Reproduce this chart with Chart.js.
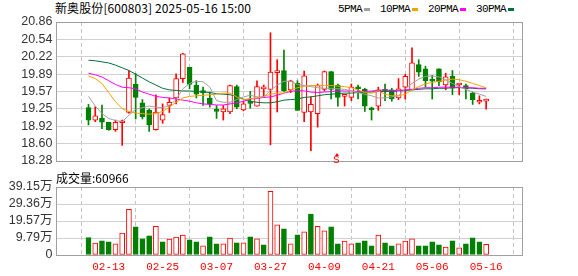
<!DOCTYPE html>
<html lang="zh-CN">
<head>
<meta charset="UTF-8" />
<title>新奥股份 日K</title>
<script src="https://cdn.jsdelivr.net/npm/chart.js"></script>
<style>
  body { margin: 0; width: 578px; height: 276px; position: relative; overflow: hidden; background: #fff;
         font-family: "Noto Sans CJK SC", "Liberation Sans", sans-serif; color: #000; }
  .abs { position: absolute; }
  #title { left: 55px; top: 0px; font-size: 12px; line-height: 16px; white-space: nowrap; letter-spacing: 0.1px; }
  #legend { left: 338px; top: 1px; display: flex; align-items: center; height: 16px;
            font-family: "Liberation Mono", monospace; font-size: 11px; letter-spacing: -0.6px; }
  #legend span.sw { display: inline-block; width: 6px; height: 3px; margin: 0 10px 0 2px; }
  #volLabel { left: 56px; top: 170px; font-size: 12px; line-height: 16px; white-space: nowrap; }
  #sMark { left: 333px; top: 152px; color: #ff0000; font-family: "Liberation Mono", monospace;
           font-size: 11px; line-height: 16px; }
  #sMark:before { content: ""; position: absolute; left: 2px; top: 1px; border-left: 2px solid transparent;
                  border-right: 2px solid transparent; border-bottom: 3px solid #ff0000; }
  #mainBox { left: 0; top: 0; width: 578px; height: 172px; }
  #volBox { left: 0; top: 172px; width: 578px; height: 104px; }
</style>
</head>
<body>
  <div id="title" class="abs">新奥股份[600803] 2025-05-16 15:00</div>
  <div id="legend" class="abs"></div>

  <div id="mainBox" class="abs"><canvas id="kChart" width="578" height="172"></canvas></div>
  <div id="sMark" class="abs">S</div>

  <div id="volLabel" class="abs">成交量:60966</div>
  <div id="volBox" class="abs"><canvas id="volChart" width="578" height="104"></canvas></div>

<script>
  // trading days shown on the chart (03-10 .. 03-17 suspended)
  const dates = ['02-10','02-11','02-12','02-13','02-14','02-17','02-18','02-19','02-20','02-21',
                 '02-24','02-25','02-26','02-27','02-28','03-03','03-04','03-05','03-06','03-07',
                 '03-18','03-19','03-20','03-21','03-24','03-25','03-26','03-27','03-28','03-31',
                 '04-01','04-02','04-03','04-07','04-08','04-09','04-10','04-11','04-14','04-15',
                 '04-16','04-17','04-18','04-21','04-22','04-23','04-24','04-25','04-28','04-29',
                 '04-30','05-06','05-07','05-08','05-09','05-12','05-13','05-14','05-15','05-16'];
  const dateTickIdx = [3, 11, 19, 27, 35, 43, 51, 59];

  const opens  = [19.27,19.04,19.07,19.00,18.86,18.99,19.18,19.71,19.36,19.22,
                  18.86,19.04,19.31,19.45,19.81,20.02,19.69,19.56,19.45,19.21,
                  19.19,19.19,19.66,19.23,19.36,19.30,19.62,19.61,19.92,19.96,
                  19.60,19.72,19.18,19.19,19.16,19.61,19.94,19.69,19.48,19.46,
                  19.63,19.61,19.24,19.30,19.59,19.60,19.45,19.65,19.60,20.07,
                  19.99,19.78,19.99,19.69,19.85,19.69,19.68,19.54,19.37,19.39];
  const highs  = [19.33,19.29,19.32,19.00,19.04,19.04,19.96,19.90,19.42,19.25,
                  19.51,19.34,19.45,19.90,20.28,20.02,19.77,19.65,19.56,19.31,
                  19.31,19.69,19.69,19.39,19.57,19.77,19.69,20.66,20.16,20.34,
                  19.78,19.77,19.95,19.47,19.71,19.95,19.94,19.71,19.52,19.71,
                  19.69,19.63,19.28,19.65,19.71,19.63,19.81,19.89,20.38,20.16,
                  20.04,19.87,19.99,19.91,19.96,19.71,19.71,19.56,19.49,19.43];
  const lows   = [18.95,19.01,18.88,18.85,18.83,18.57,19.17,19.06,19.06,18.83,
                  18.85,18.98,19.18,19.34,19.74,19.62,19.45,19.31,19.28,19.07,
                  19.04,19.16,19.25,19.21,19.26,19.30,19.46,18.58,19.19,19.57,
                  19.55,19.22,19.01,18.47,18.91,19.58,19.43,19.30,19.30,19.40,
                  19.43,19.20,19.04,19.22,19.40,19.39,19.42,19.43,19.60,19.85,
                  19.65,19.43,19.68,19.60,19.51,19.51,19.43,19.33,19.34,19.24];
  const closes = [19.04,19.12,19.00,18.86,19.00,19.01,19.82,19.46,19.10,18.95,
                  19.19,19.14,19.37,19.81,20.27,19.70,19.52,19.55,19.34,19.20,
                  19.25,19.68,19.28,19.34,19.35,19.66,19.64,19.93,19.95,19.58,
                  19.77,19.22,19.86,19.33,19.68,19.94,19.61,19.46,19.50,19.65,
                  19.62,19.30,19.23,19.60,19.58,19.43,19.62,19.85,20.10,19.93,
                  19.77,19.76,19.75,19.84,19.63,19.70,19.62,19.42,19.38,19.42];

  const ma5  = [19.48,19.30,19.16,19.07,19.03,19.01,19.13,19.24,19.27,19.30,
                19.28,19.27,19.31,19.42,19.62,19.72,19.76,19.75,19.65,19.40,
                19.37,19.37,19.42,19.47,19.50,19.47,19.47,19.59,19.69,19.76,
                19.76,19.70,19.68,19.66,19.64,19.63,19.63,19.62,19.61,19.58,
                19.55,19.52,19.49,19.45,19.45,19.47,19.49,19.62,19.72,19.80,
                19.85,19.86,19.84,19.79,19.72,19.66,19.61,19.56,19.52,19.48];
  const ma10 = [19.86,19.81,19.72,19.55,19.38,19.25,19.20,19.17,19.16,19.15,
                19.16,19.20,19.28,19.37,19.45,19.48,19.49,19.50,19.51,19.52,
                19.54,19.54,19.47,19.42,19.44,19.45,19.48,19.52,19.54,19.54,
                19.60,19.64,19.67,19.68,19.68,19.68,19.68,19.67,19.66,19.64,
                19.60,19.55,19.54,19.58,19.52,19.49,19.49,19.52,19.60,19.66,
                19.71,19.74,19.76,19.78,19.80,19.79,19.76,19.72,19.68,19.64];
  const ma20 = [19.91,19.88,19.84,19.77,19.70,19.65,19.64,19.62,19.56,19.52,
                19.48,19.46,19.45,19.43,19.41,19.39,19.36,19.34,19.33,19.32,
                19.32,19.34,19.36,19.39,19.43,19.44,19.46,19.47,19.50,19.54,
                19.57,19.59,19.58,19.56,19.55,19.56,19.57,19.58,19.58,19.58,
                19.57,19.57,19.58,19.59,19.60,19.59,19.59,19.60,19.61,19.63,
                19.64,19.64,19.65,19.65,19.65,19.65,19.64,19.64,19.63,19.63];
  const ma30 = [20.15,20.14,20.12,20.10,20.06,20.01,19.96,19.89,19.82,19.75,
                19.69,19.63,19.60,19.59,19.58,19.58,19.57,19.56,19.55,19.53,
                19.52,19.51,19.48,19.43,19.39,19.37,19.36,19.36,19.38,19.41,
                19.42,19.43,19.46,19.47,19.49,19.51,19.52,19.53,19.54,19.54,
                19.55,19.55,19.56,19.57,19.57,19.57,19.58,19.59,19.60,19.61,
                19.62,19.62,19.63,19.63,19.64,19.64,19.64,19.63,19.62,19.62];

  // volume in lots (手)
  const volumes = [100800,68500,81800,76100,64700,125500,262500,161700,93200,110300,
                   165500,76100,91300,102700,114100,87500,76100,53300,104600,64700,
                   64700,97000,70400,70400,104600,93200,59000,367100,173100,150300,
                   64700,116000,133100,235800,165500,138800,161700,64700,79900,64700,
                   70400,81800,53300,114100,70400,53300,64700,79900,93200,53300,
                   53300,76100,59000,45600,81800,41800,64700,98900,76100,60966];
  const volUp = [0,1,0,0,1,1,1,0,0,0, 1,0,1,1,1,0,0,1,0,0,
                 1,1,0,1,0,1,0,1,1,0, 1,0,1,0,1,1,0,0,1,1,
                 0,0,0,1,0,0,1,1,1,0, 0,0,0,1,0,1,0,0,0,1];

  const priceTicks = ['18.28','18.60','18.92','19.25','19.57','19.89','20.22','20.54','20.86'];
  const volTicks = ['0','9.79万','19.57万','29.36万','39.15万'];
  const maNames = ['5PMA', '10PMA', '20PMA', '30PMA'];

  const PRICE_MIN = 18.28, PRICE_MAX = 20.86, VOL_MAX = 391500;
  const RED = '#ff0000', GREEN = '#008000';
  const maColors = ['#a0a0a0', '#f5a300', '#ff00ff', '#00703c'];

  // legend row (html text)
  const legend = document.getElementById('legend');
  maNames.forEach((n, i) => {
    legend.insertAdjacentHTML('beforeend', `<span>${n}</span><span class="sw" style="background:${maColors[i]}"></span>`);
  });

  const frame = {
    id: 'frame',
    afterDraw(chart) {
      const { ctx, chartArea: a } = chart;
      ctx.save();
      ctx.strokeStyle = '#a0a0a0';
      ctx.lineWidth = 1;
      ctx.strokeRect(a.left + 0.5, a.top + 0.5, a.right - a.left, a.bottom - a.top);
      ctx.restore();
    }
  };

  const tickFont = { family: '"Liberation Sans", "Noto Sans CJK SC", sans-serif', size: 12.5 };

  function xScale(showLabels) {
    return {
      type: 'linear', min: -0.5, max: 60,
      afterBuildTicks: s => { s.ticks = dateTickIdx.map(v => ({ value: v })); },
      afterFit: s => { s.height = showLabels ? 21 : 0; },
      grid: { color: '#c4c4c4', drawTicks: false, borderDash: [4, 3] },
      border: { display: false, dash: [4, 3] },
      ticks: {
        display: showLabels, autoSkip: false, color: RED, padding: 5, maxRotation: 0,
        font: { family: '"Liberation Mono", monospace', size: 11 },
        callback: v => dates[v]
      }
    };
  }

  function yScale(min, max, labels) {
    return {
      min: min, max: max,
      afterBuildTicks: s => { s.ticks = labels.map((t, i) => ({ value: min + i * (max - min) / (labels.length - 1) })); },
      afterFit: s => { s.width = 56; },
      grid: { color: '#d0d0d0', drawTicks: false },
      border: { display: false },
      ticks: { autoSkip: false, color: '#333333', padding: 3.5, font: tickFont, callback: (v, i) => labels[i] }
    };
  }

  const isUp = closes.map((c, i) => c >= opens[i]);
  const idx = dates.map((d, i) => i);

  new Chart(document.getElementById('kChart'), {
    type: 'bar',
    data: {
      datasets: [
        ...[ma5, ma10, ma20, ma30].map((arr, k) => ({
          type: 'line', label: maNames[k], order: 0,
          data: arr.map((v, i) => ({ x: i, y: v })),
          borderColor: maColors[k], borderWidth: 1, pointRadius: 0, tension: 0
        })),
        {
          label: 'body', order: 1, grouped: false,
          data: idx.map(i => ({ x: i, y: [opens[i], closes[i]] })),
          backgroundColor: isUp.map(u => u ? '#ffffff' : GREEN),
          borderColor: isUp.map(u => u ? RED : GREEN),
          borderWidth: 1, borderSkipped: false, barThickness: 5, minBarLength: 2
        },
        {
          label: 'wick', order: 2, grouped: false,
          data: idx.map(i => ({ x: i, y: [lows[i], highs[i]] })),
          backgroundColor: isUp.map(u => u ? RED : GREEN),
          borderWidth: 0, barThickness: 1
        }
      ]
    },
    options: {
      responsive: false, animation: false,
      layout: { padding: { top: 22, right: 56, bottom: 9, left: 0 } },
      plugins: { legend: { display: false }, tooltip: { enabled: false } },
      scales: { x: xScale(false), y: yScale(PRICE_MIN, PRICE_MAX, priceTicks) }
    },
    plugins: [frame]
  });

  new Chart(document.getElementById('volChart'), {
    type: 'bar',
    data: {
      datasets: [{
        label: '成交量', grouped: false,
        data: idx.map(i => ({ x: i, y: volumes[i] })),
        backgroundColor: volUp.map(u => u ? '#ffffff' : GREEN),
        borderColor: volUp.map(u => u ? RED : GREEN),
        borderWidth: 1, borderSkipped: false, barThickness: 5
      }]
    },
    options: {
      responsive: false, animation: false,
      layout: { padding: { top: 15, right: 56, bottom: 0, left: 0 } },
      plugins: { legend: { display: false }, tooltip: { enabled: false } },
      scales: { x: xScale(true), y: yScale(0, VOL_MAX, volTicks) }
    },
    plugins: [frame]
  });
</script>
</body>
</html>
